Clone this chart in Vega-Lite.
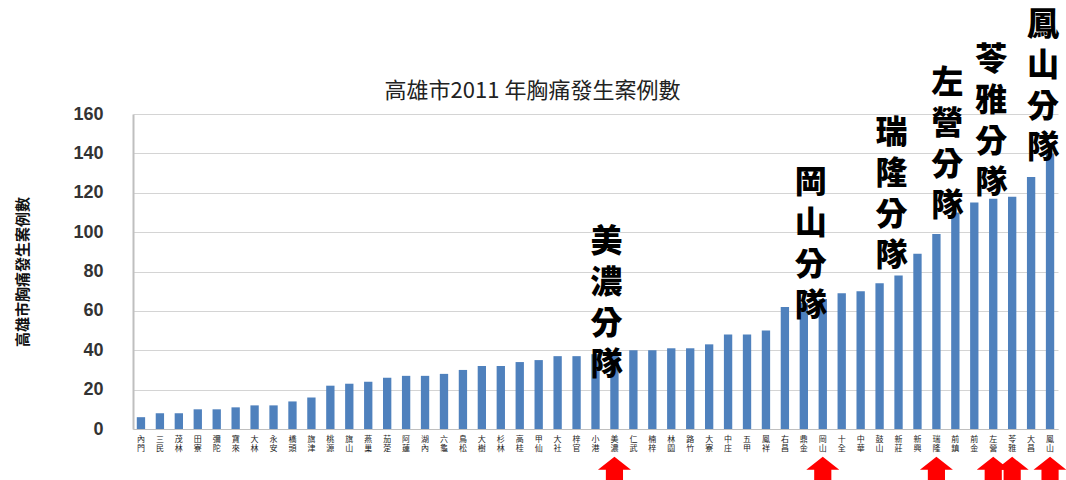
{
  "$schema": "https://vega.github.io/schema/vega-lite/v6.json",
  "autosize": {"type": "none"},
  "width": 925,
  "height": 315,
  "padding": {"left": 133, "top": 114, "right": 8, "bottom": 51},
  "background": "white",
  "config": {
    "view": {"stroke": null},
    "font": "Noto Sans CJK TC"
  },
  "resolve": {"axis": {"x": "independent", "y": "independent"}},
  "title": {"text": "高雄市2011 年胸痛發生案例數", "font": "Noto Sans CJK TC", "fontSize": 22, "fontWeight": "normal", "color": "#222", "anchor": "middle", "frame": "group", "dx": -63, "offset": -94},
  "data": {"values": [
    {"district": "內門", "count": 6},
    {"district": "三民", "count": 8},
    {"district": "茂林", "count": 8},
    {"district": "田寮", "count": 10},
    {"district": "彌陀", "count": 10},
    {"district": "寶來", "count": 11},
    {"district": "大林", "count": 12},
    {"district": "永安", "count": 12},
    {"district": "橋頭", "count": 14},
    {"district": "旗津", "count": 16},
    {"district": "桃源", "count": 22},
    {"district": "旗山", "count": 23},
    {"district": "燕巢", "count": 24},
    {"district": "茄萣", "count": 26},
    {"district": "阿蓮", "count": 27},
    {"district": "湖內", "count": 27},
    {"district": "六龜", "count": 28},
    {"district": "鳥松", "count": 30},
    {"district": "大樹", "count": 32},
    {"district": "杉林", "count": 32},
    {"district": "高桂", "count": 34},
    {"district": "甲仙", "count": 35},
    {"district": "大社", "count": 37},
    {"district": "梓官", "count": 37},
    {"district": "小港", "count": 38},
    {"district": "美濃", "count": 39},
    {"district": "仁武", "count": 40},
    {"district": "楠梓", "count": 40},
    {"district": "林園", "count": 41},
    {"district": "路竹", "count": 41},
    {"district": "大寮", "count": 43},
    {"district": "中庄", "count": 48},
    {"district": "五甲", "count": 48},
    {"district": "鳳祥", "count": 50},
    {"district": "右昌", "count": 62},
    {"district": "鼎金", "count": 64},
    {"district": "岡山", "count": 66},
    {"district": "十全", "count": 69},
    {"district": "中華", "count": 70},
    {"district": "鼓山", "count": 74},
    {"district": "新莊", "count": 78},
    {"district": "新興", "count": 89},
    {"district": "瑞隆", "count": 99},
    {"district": "前鎮", "count": 110},
    {"district": "前金", "count": 115},
    {"district": "左營", "count": 117},
    {"district": "苓雅", "count": 118},
    {"district": "大昌", "count": 128},
    {"district": "鳳山", "count": 140}
  ]},
  "layer": [
    {
      "mark": {"type": "bar", "color": "#4F81BD"},
      "encoding": {
        "x": {"field": "district", "type": "nominal", "sort": null,
          "scale": {"paddingInner": 0.56, "paddingOuter": 0.2,
            "domain": ["內門","三民","茂林","田寮","彌陀","寶來","大林","永安","橋頭","旗津","桃源","旗山","燕巢","茄萣","阿蓮","湖內","六龜","鳥松","大樹","杉林","高桂","甲仙","大社","梓官","小港","美濃","仁武","楠梓","林園","路竹","大寮","中庄","五甲","鳳祥","右昌","鼎金","岡山","十全","中華","鼓山","新莊","新興","瑞隆","前鎮","前金","左營","苓雅","大昌","鳳山"]},
          "axis": {"title": null, "labelAngle": 0, "labelExpr": "split(datum.label, '')", "labelFont": "Noto Sans CJK TC", "labelFontSize": 8, "labelLineHeight": 9, "labelPadding": 6, "labelColor": "#222", "labelOverlap": false, "labelBound": false, "labelFlush": false, "ticks": false, "domainColor": "#bfbfbf", "domainWidth": 1}},
        "y": {"field": "count", "type": "quantitative",
          "scale": {"domain": [0, 160], "nice": false},
          "axis": {"title": "高雄市胸痛發生案例數", "values": [0, 20, 40, 60, 80, 100, 120, 140, 160], "labelOverlap": false, "ticks": false, "labelFont": "Liberation Sans", "labelFontSize": 18, "labelFontWeight": "bold", "labelColor": "#333", "labelPadding": 30, "gridColor": "#d4d4d4", "domainColor": "#bfbfbf", "domainWidth": 2, "titleFont": "Noto Sans CJK TC", "titleFontSize": 15, "titleFontWeight": "bold", "titleColor": "#111", "titlePadding": 42}}
      }
    },
    {
      "transform": [{"filter": "indexof(['美濃','岡山','瑞隆','左營','苓雅','鳳山'], datum.district) >= 0"}],
      "mark": {"type": "point", "shape": "M0,-0.7L1,0.09L0.52,0.09L0.52,0.7L-0.52,0.7L-0.52,0.09L-1,0.09Z", "filled": true, "color": "#ff0000", "opacity": 1, "size": 1089, "strokeWidth": 0},
      "encoding": {"x": {"field": "district", "type": "nominal", "axis": null}, "y": {"datum": -20, "axis": null}}
    },
    {
      "transform": [{"filter": "datum.district == '美濃'"}],
      "mark": {"type": "text", "text": ["美", "濃", "分", "隊"], "font": "Noto Sans CJK TC", "fontSize": 32, "fontWeight": 900, "lineHeight": 41, "baseline": "top", "align": "center", "dx": -8, "color": "black"},
      "encoding": {"x": {"field": "district", "type": "nominal", "axis": null}, "y": {"datum": 102.6, "axis": null}}
    },
    {
      "transform": [{"filter": "datum.district == '岡山'"}],
      "mark": {"type": "text", "text": ["岡", "山", "分", "隊"], "font": "Noto Sans CJK TC", "fontSize": 32, "fontWeight": 900, "lineHeight": 41, "baseline": "top", "align": "center", "dx": -12, "color": "black"},
      "encoding": {"x": {"field": "district", "type": "nominal", "axis": null}, "y": {"datum": 132.6, "axis": null}}
    },
    {
      "transform": [{"filter": "datum.district == '瑞隆'"}],
      "mark": {"type": "text", "text": ["瑞", "隆", "分", "隊"], "font": "Noto Sans CJK TC", "fontSize": 32, "fontWeight": 900, "lineHeight": 41, "baseline": "top", "align": "center", "dx": -45, "color": "black"},
      "encoding": {"x": {"field": "district", "type": "nominal", "axis": null}, "y": {"datum": 158, "axis": null}}
    },
    {
      "transform": [{"filter": "datum.district == '左營'"}],
      "mark": {"type": "text", "text": ["左", "營", "分", "隊"], "font": "Noto Sans CJK TC", "fontSize": 32, "fontWeight": 900, "lineHeight": 41, "baseline": "top", "align": "center", "dx": -46, "color": "black"},
      "encoding": {"x": {"field": "district", "type": "nominal", "axis": null}, "y": {"datum": 183.4, "axis": null}}
    },
    {
      "transform": [{"filter": "datum.district == '苓雅'"}],
      "mark": {"type": "text", "text": ["苓", "雅", "分", "隊"], "font": "Noto Sans CJK TC", "fontSize": 32, "fontWeight": 900, "lineHeight": 41, "baseline": "top", "align": "center", "dx": -21, "color": "black"},
      "encoding": {"x": {"field": "district", "type": "nominal", "axis": null}, "y": {"datum": 195, "axis": null}}
    },
    {
      "transform": [{"filter": "datum.district == '鳳山'"}],
      "mark": {"type": "text", "text": ["鳳", "山", "分", "隊"], "font": "Noto Sans CJK TC", "fontSize": 32, "fontWeight": 900, "lineHeight": 41, "baseline": "top", "align": "center", "dx": -7, "color": "black"},
      "encoding": {"x": {"field": "district", "type": "nominal", "axis": null}, "y": {"datum": 212.8, "axis": null}}
    }
  ]
}
